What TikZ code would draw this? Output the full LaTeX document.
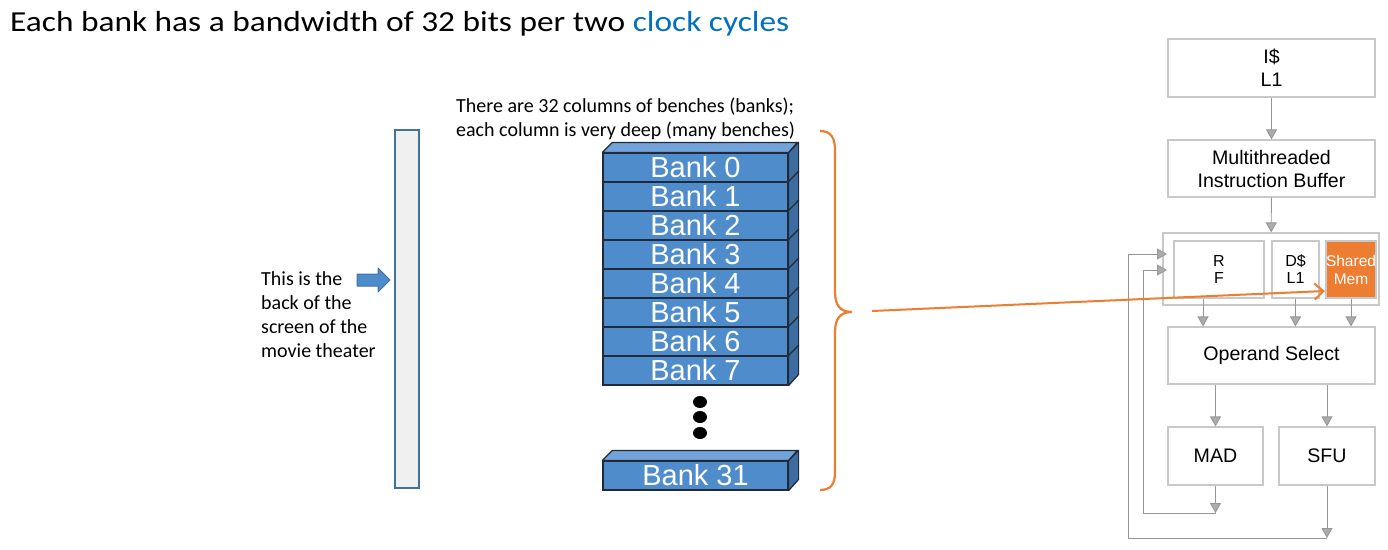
\documentclass[tikz,border=0pt]{standalone}
\usepackage{fontspec}
\setmainfont{Carlito}
\newfontfamily\arialfont{Liberation Sans}
\usetikzlibrary{arrows.meta}
\definecolor{clockblue}{RGB}{0,112,192}
\definecolor{braceorange}{RGB}{237,125,49}
\definecolor{bankfront}{RGB}{79,140,204}
\definecolor{banktop}{RGB}{114,163,218}
\definecolor{bankside}{RGB}{61,108,160}
\definecolor{bankedge}{RGB}{32,42,56}
\definecolor{screenedge}{RGB}{65,113,156}
\definecolor{screenfill}{RGB}{240,240,240}
\definecolor{boxedge}{RGB}{200,200,200}
\definecolor{flowline}{RGB}{150,150,150}
\definecolor{tipfill}{RGB}{172,172,172}

\begin{document}
\begin{tikzpicture}[x=1pt,y=1pt,yscale=-1,
  bankface/.style={draw=bankedge,fill=bankfront,line width=1.2pt,minimum width=185pt,minimum height=29pt,inner sep=0pt,text=white,font=\arialfont\fontsize{29}{29}\selectfont},
  bankwall/.style={draw=bankedge,fill=bankside,line width=1.2pt,line join=round},
  banklid/.style={draw=bankedge,fill=banktop,line width=1.2pt,line join=round},
  unitbox/.style={draw=boxedge,line width=1.2pt,fill=white,inner sep=0pt,align=center,font=\arialfont\fontsize{19.6}{23}\selectfont},
  flow/.style={draw=flowline,line width=0.9pt,-{Triangle[width=11pt,length=10pt,fill=tipfill]}},
  memlink/.style={draw=braceorange,line width=2pt,-{Straight Barb[length=9pt,width=16pt]}},
  note/.style={anchor=north west,inner sep=0pt,align=left,font=\fontsize{20}{24}\selectfont}]

\useasboundingbox (0,0) rectangle (1388,549);

% title
\node [anchor=base west,inner sep=0pt,font=\fontsize{29}{34}\selectfont] (title) at (10,31) {\scalebox{1.15}[1]{Each bank has a bandwidth of 32 bits per two \textcolor{clockblue}{clock cycles}}};

% screen of the theater
\node [draw=screenedge,fill=screenfill,line width=1.2pt,minimum width=24pt,minimum height=358pt] (screen) at (407,309) {};
\draw [draw=screenedge,fill=bankfront,line width=1pt,line join=round] (357,274) -- (378,274) -- (378,268) -- (390,280) -- (378,292) -- (378,286) -- (357,286) -- cycle;
\node [note] (screennote) at (261,271) {This is the\\back of the\\screen of the\\movie theater};

% banks
\node [note] (banknote) at (456,98) {There are 32 columns of benches (banks);\\each column is very deep (many benches)};
\foreach \i in {0,...,7} {
  \node [bankface] (bank\i) at (695.5,167.5+29*\i) {Bank \i};
  \draw [bankwall] (bank\i.north east) -- ++(10,-10) -- ++(0,29) -- (bank\i.south east) -- cycle;
}
\draw [banklid] (bank0.north west) -- ++(10,-10) -- ++(185,0) -- (bank0.north east) -- cycle;
\foreach \y in {402,417,433} \fill (700,\y) ellipse [x radius=7,y radius=6];
\node [bankface] (bank31) at (695.5,475.5) {Bank 31};
\draw [bankwall] (bank31.north east) -- ++(10,-10) -- ++(0,29) -- (bank31.south east) -- cycle;
\draw [banklid] (bank31.north west) -- ++(10,-10) -- ++(185,0) -- (bank31.north east) -- cycle;

% brace
\coordinate (bracetip) at (852,312);
\draw [braceorange,line width=2.2pt] (820,131) .. controls (831,131) and (835,138) .. (835,150) -- (835,292) .. controls (835,305) and (840,312) .. (bracetip) .. controls (840,312) and (835,319) .. (835,332) -- (835,472) .. controls (835,484) and (831,490) .. (820,490);

% pipeline
\node [unitbox,minimum width=207pt,minimum height=58pt] (icache) at (1271.5,68) {I\$\\L1};
\node [unitbox,minimum width=207pt,minimum height=57pt] (mtib) at (1271.5,168.5) {Multithreaded\\Instruction Buffer};
\node [unitbox,minimum width=216pt,minimum height=72pt] (regs) at (1271,269) {};
\node [unitbox,minimum width=90pt,minimum height=57pt,font=\arialfont\fontsize{16}{17}\selectfont] (rf) at (1219,269.5) {R\\F};
\node [unitbox,minimum width=47pt,minimum height=57pt,font=\arialfont\fontsize{16}{17}\selectfont] (dcache) at (1295.5,269.5) {D\$\\L1};
\node [unitbox,draw=boxedge,fill=braceorange,text=white,minimum width=48pt,minimum height=57pt,font=\arialfont\fontsize{15.5}{18}\selectfont] (smem) at (1351,269.5) {Shared\\Mem};
\node [unitbox,minimum width=207pt,minimum height=57pt] (opsel) at (1271.5,355.5) {Operand Select};
\node [unitbox,minimum width=95pt,minimum height=58pt] (mad) at (1215.5,456) {MAD};
\node [unitbox,minimum width=96pt,minimum height=58pt] (sfu) at (1327,456) {SFU};

\coordinate (madout) at (1215.5,513);
\coordinate (sfuout) at (1327,538);
\coordinate (rfin1) at (1167,254);
\coordinate (rfin2) at (1167,270);
\coordinate (memin) at (1325,291);

\draw [flow] (icache) -- (mtib);
\draw [flow] (mtib) -- (regs);
\draw [flow] ([xshift=-16pt]rf.south) -- ([xshift=-16pt]rf.south |- opsel.north);
\draw [flow] (dcache.south) -- (dcache.south |- opsel.north);
\draw [flow] (smem.south) -- (smem.south |- opsel.north);
\draw [flow] (opsel.south -| mad.north) -- (mad.north);
\draw [flow] (opsel.south -| sfu.north) -- (sfu.north);
\draw [flow] (mad.south) -- (madout);
\draw [flow] (sfu.south) -- (sfuout);
\draw [flow] (madout) -- +(-72.5,0) |- (rfin2);
\draw [flow] (sfuout) -- +(-199,0) |- (rfin1);

\draw [memlink] ([xshift=20pt,yshift=-1pt]bracetip) -- (memin);

\end{tikzpicture}
\end{document}
